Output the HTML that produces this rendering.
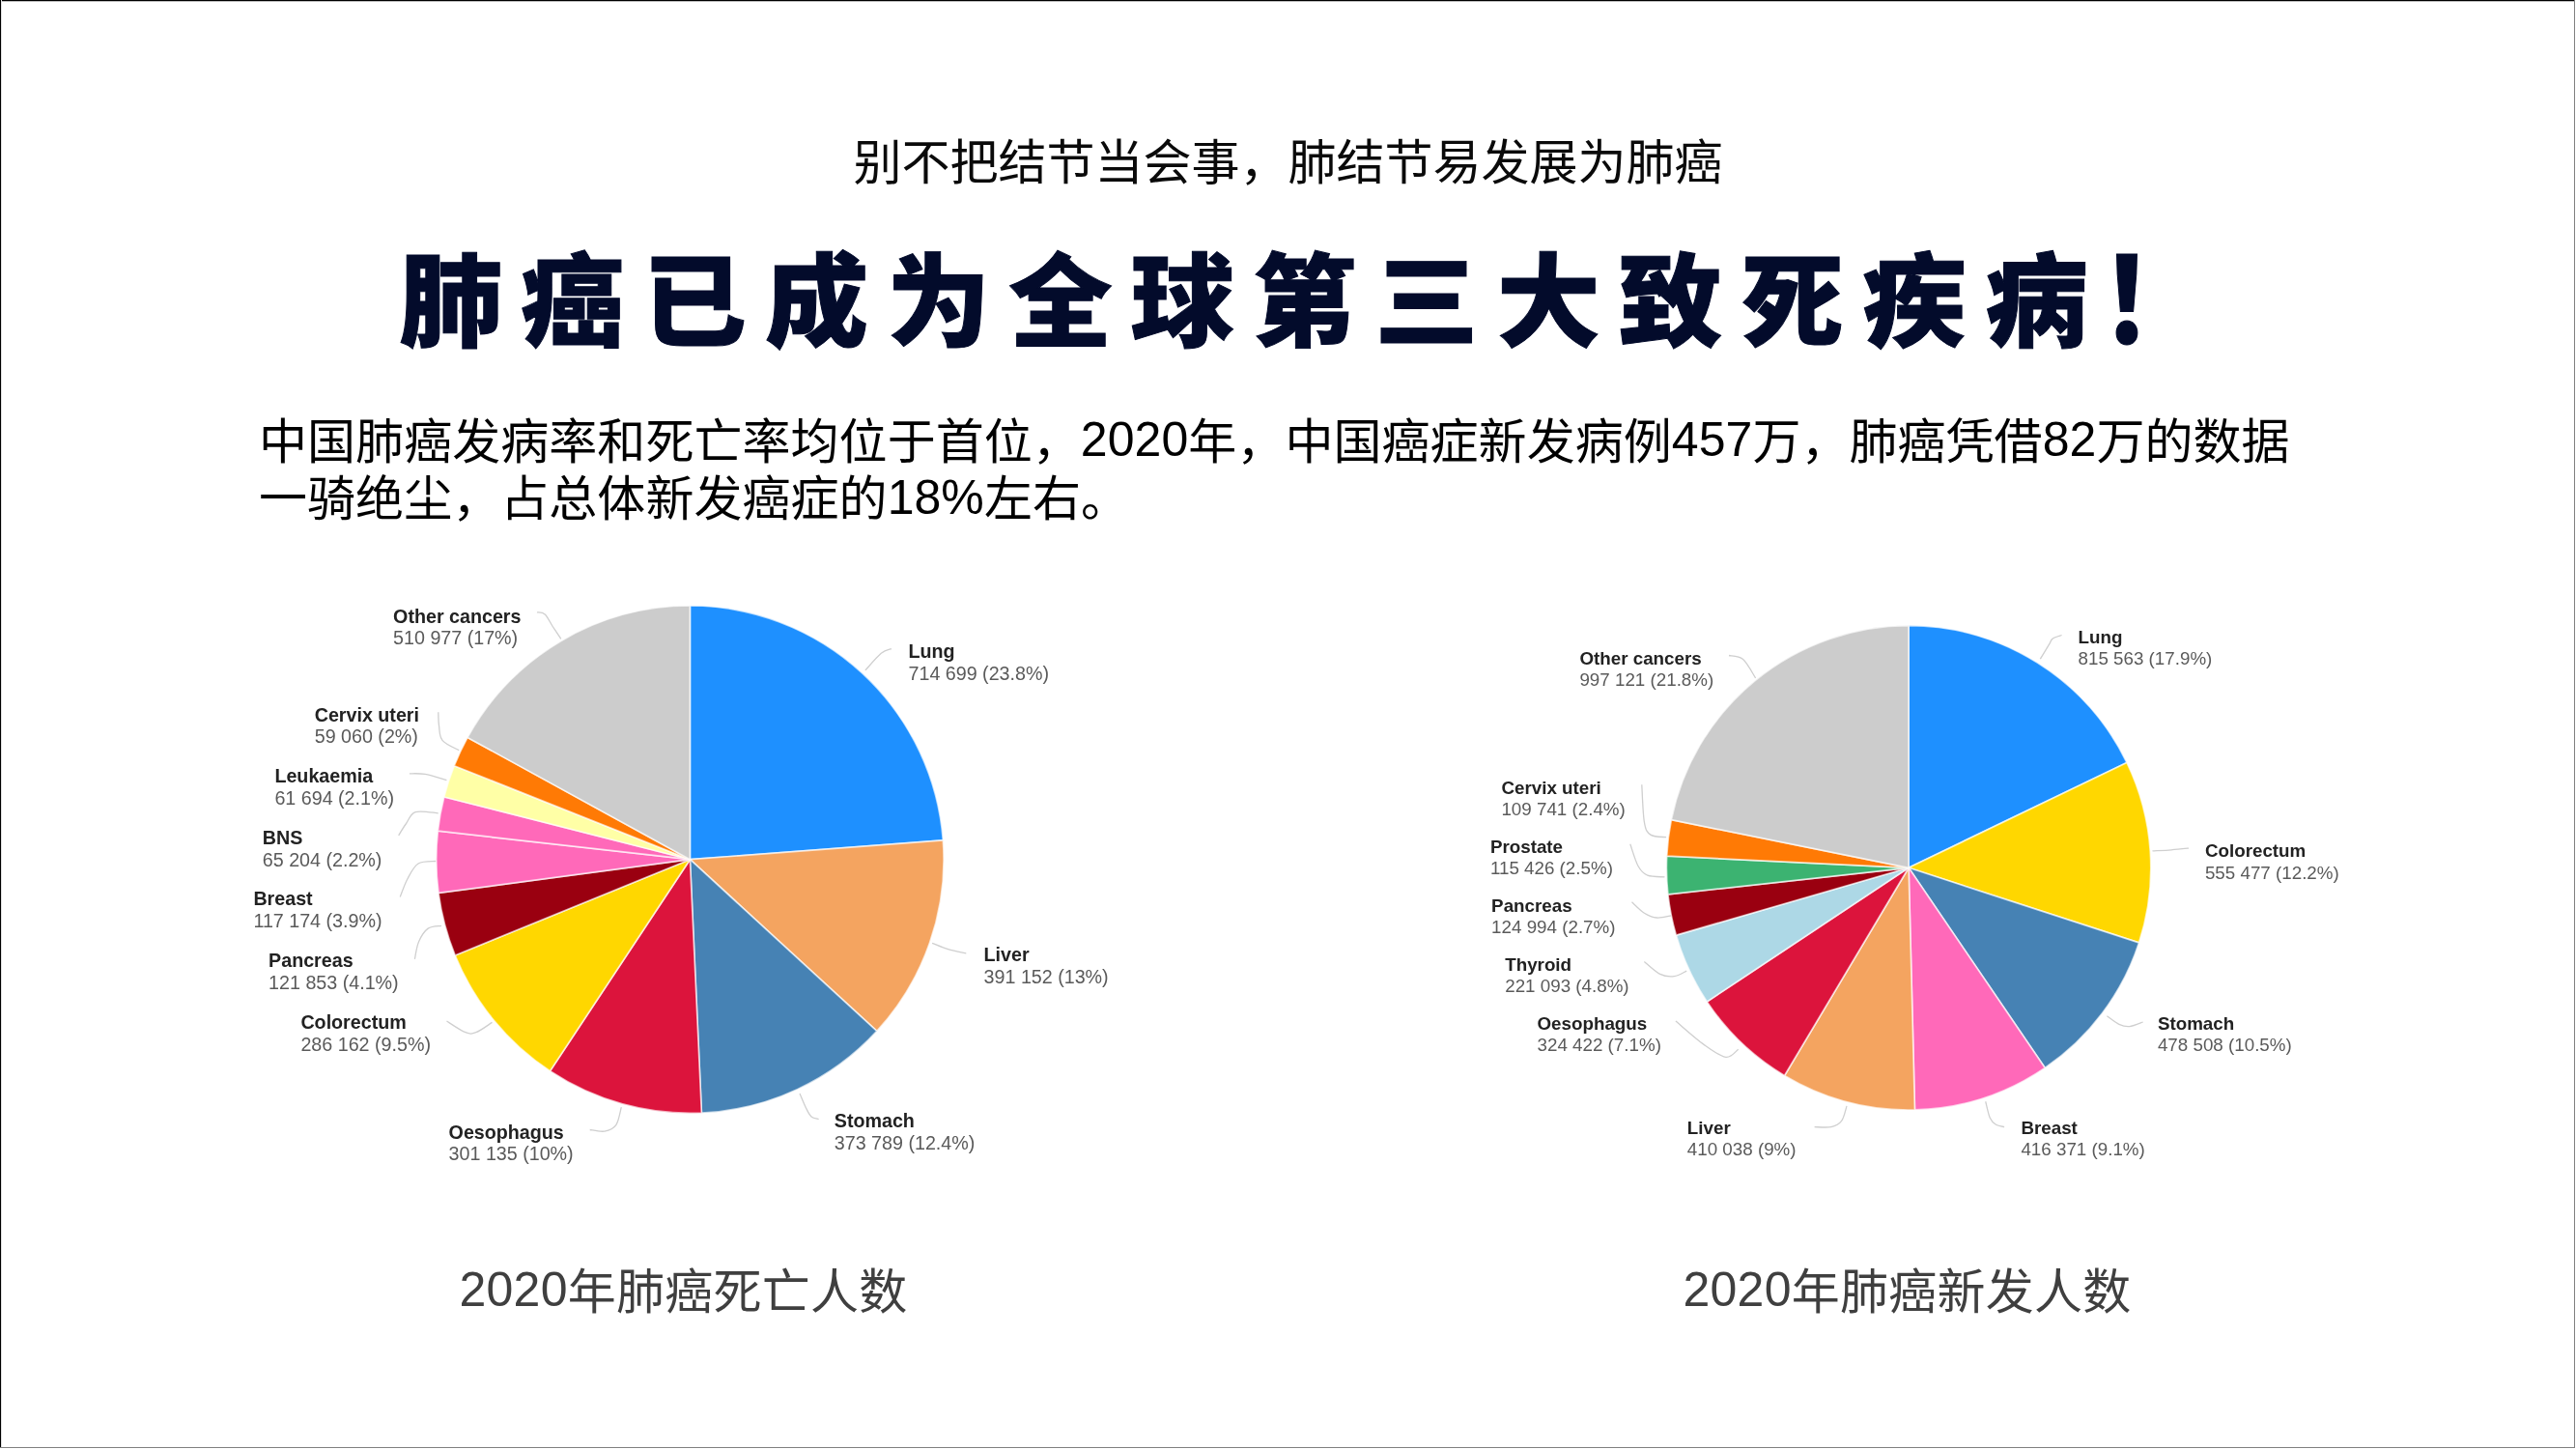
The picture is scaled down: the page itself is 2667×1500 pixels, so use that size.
<!DOCTYPE html>
<html lang="zh-CN"><head><meta charset="utf-8"><title>肺癌已成为全球第三大致死疾病</title>
<style>
html,body{margin:0;padding:0;background:#fff;}
body{width:2667px;height:1500px;position:relative;overflow:hidden;font-family:"Liberation Sans","Noto Sans CJK SC",sans-serif;}
.frame{position:absolute;left:0;top:0;width:2667px;height:1500px;box-sizing:border-box;pointer-events:none;}
.bt{position:absolute;left:0;top:0;width:2666px;height:1px;background:#000;border-bottom:1px solid #bdbdbd;}
.bl{position:absolute;left:0;top:0;width:1px;height:1499px;background:#000;border-right:1px solid #e2e2e2;}
.bb{position:absolute;left:0;top:1498px;width:2666px;height:1px;background:#808080;}
.br{position:absolute;left:2665px;top:0;width:1px;height:1499px;background:#808080;}
.sub{position:absolute;left:0;top:134px;width:2667px;text-align:center;font-size:50px;line-height:70px;color:#0a0a0a;white-space:nowrap;}
.title{position:absolute;left:413px;top:239px;font-family:"Liberation Sans","Noto Sans CJK SC",sans-serif;font-weight:900;font-size:107px;line-height:150px;letter-spacing:19.3px;transform:scaleY(0.98);transform-origin:0 71px;color:#030b2b;white-space:nowrap;-webkit-text-stroke:1px #030b2b;}
.ex{display:inline-block;position:relative;top:2px;margin-left:-6px;transform:scaleY(1.175);transform-origin:50% 94px;}
.para{position:absolute;left:268px;top:428.5px;width:2130px;font-size:50px;line-height:59.6px;letter-spacing:0.05px;color:#000;}
.n{position:relative;top:-2.5px;}
.cap{position:absolute;top:1302.5px;font-size:50px;line-height:70px;color:#3f3f3f;white-space:nowrap;letter-spacing:0.25px;}
svg{position:absolute;left:0;top:0;filter:blur(0.7px);}
.lt{font-family:"Liberation Sans",sans-serif;font-weight:700;fill:#222;}
.lv{font-family:"Liberation Sans",sans-serif;font-weight:400;fill:#5a5a5a;}
.ld path{fill:none;stroke:#cfcfcf;stroke-width:1.3;}
.pie path{stroke:#fff;stroke-opacity:.68;stroke-width:1.7;stroke-linejoin:round;}
</style></head><body>
<div class="sub">别不把结节当会事，肺结节易发展为肺癌</div>
<div class="title">肺癌已成为全球第三大致死疾病<span class="ex">！</span></div>
<div class="para">中国肺癌发病率和死亡率均位于首位，<span class="n">2020</span>年，中国癌症新发病例<span class="n">457</span>万，肺癌凭借<span class="n">82</span>万的数据<br>一骑绝尘，占总体新发癌症的<span class="n">18%</span>左右。</div>
<svg width="2667" height="1500" viewBox="0 0 2667 1500">
<g class="pie">
<path d="M714.4,889.7 L714.40,627.00 A262.7,262.7 0 0 1 976.35,869.92 Z" fill="#1E90FF"/>
<path d="M714.4,889.7 L976.35,869.92 A262.7,262.7 0 0 1 907.85,1067.43 Z" fill="#F4A460"/>
<path d="M714.4,889.7 L907.85,1067.43 A262.7,262.7 0 0 1 726.38,1152.13 Z" fill="#4682B4"/>
<path d="M714.4,889.7 L726.38,1152.13 A262.7,262.7 0 0 1 569.46,1108.80 Z" fill="#DC143C"/>
<path d="M714.4,889.7 L569.46,1108.80 A262.7,262.7 0 0 1 471.19,988.99 Z" fill="#FFD700"/>
<path d="M714.4,889.7 L471.19,988.99 A262.7,262.7 0 0 1 454.01,924.44 Z" fill="#9A0010"/>
<path d="M714.4,889.7 L454.01,924.44 A262.7,262.7 0 0 1 453.36,860.20 Z" fill="#FF69B9"/>
<path d="M714.4,889.7 L453.36,860.20 A262.7,262.7 0 0 1 459.80,824.97 Z" fill="#FF69B9"/>
<path d="M714.4,889.7 L459.80,824.97 A262.7,262.7 0 0 1 470.25,792.73 Z" fill="#FFFFA6"/>
<path d="M714.4,889.7 L470.25,792.73 A262.7,262.7 0 0 1 484.07,763.38 Z" fill="#FF7A05"/>
<path d="M714.4,889.7 L484.07,763.38 A262.7,262.7 0 0 1 714.40,627.00 Z" fill="#CCCCCC"/>
</g>
<g class="pie">
<path d="M1976.1,898.3 L1976.10,647.60 A250.7,250.7 0 0 1 2201.93,789.44 Z" fill="#1E90FF"/>
<path d="M1976.1,898.3 L2201.93,789.44 A250.7,250.7 0 0 1 2214.49,975.91 Z" fill="#FFD700"/>
<path d="M1976.1,898.3 L2214.49,975.91 A250.7,250.7 0 0 1 2117.24,1105.49 Z" fill="#4682B4"/>
<path d="M1976.1,898.3 L2117.24,1105.49 A250.7,250.7 0 0 1 1982.46,1148.92 Z" fill="#FF69B9"/>
<path d="M1976.1,898.3 L1982.46,1148.92 A250.7,250.7 0 0 1 1847.52,1113.52 Z" fill="#F4A460"/>
<path d="M1976.1,898.3 L1847.52,1113.52 A250.7,250.7 0 0 1 1767.24,1036.97 Z" fill="#DC143C"/>
<path d="M1976.1,898.3 L1767.24,1036.97 A250.7,250.7 0 0 1 1735.31,968.08 Z" fill="#ADD8E6"/>
<path d="M1976.1,898.3 L1735.31,968.08 A250.7,250.7 0 0 1 1726.92,925.86 Z" fill="#9A0010"/>
<path d="M1976.1,898.3 L1726.92,925.86 A250.7,250.7 0 0 1 1725.70,886.13 Z" fill="#3CB371"/>
<path d="M1976.1,898.3 L1725.70,886.13 A250.7,250.7 0 0 1 1730.37,848.62 Z" fill="#FF7A05"/>
<path d="M1976.1,898.3 L1730.37,848.62 A250.7,250.7 0 0 1 1976.10,647.60 Z" fill="#CCCCCC"/>
</g>
<g class="ld">
<path d="M556.0,633.8 C557.4,634.1 561.5,633.4 564.2,635.9 C567.0,638.4 569.7,644.8 572.5,649.0 C575.3,653.2 579.4,659.3 580.8,661.4"/>
<path d="M453.8,737.3 C453.9,739.6 453.8,746.3 454.5,751.1 C455.2,755.9 454.6,762.0 458.0,766.3 C461.4,770.6 472.3,775.0 475.2,776.7"/>
<path d="M423.9,800.8 C426.6,800.9 433.6,800.3 440.0,801.4 C446.4,802.5 458.7,806.6 462.4,807.6"/>
<path d="M412.7,864.8 C413.9,862.8 417.3,857.0 420.2,853.0 C423.1,849.0 424.5,842.5 430.1,840.6 C435.7,838.7 449.8,841.6 453.7,841.8"/>
<path d="M414.2,928.6 C415.5,925.5 418.7,915.8 421.8,910.0 C424.9,904.2 428.1,897.1 433.0,894.0 C437.9,890.9 448.2,891.9 451.2,891.5"/>
<path d="M429.4,992.8 C430.1,989.8 431.2,980.2 433.5,974.9 C435.8,969.6 439.3,963.9 443.2,961.1 C447.1,958.3 454.7,958.8 457.0,958.3"/>
<path d="M462.5,1057.0 C465.7,1059.0 476.8,1066.8 481.9,1068.7 C487.0,1070.7 488.3,1070.4 492.9,1068.7 C497.5,1067.0 506.7,1060.1 509.5,1058.4"/>
<path d="M610.7,1169.5 C613.2,1169.8 621.4,1171.9 625.9,1171.1 C630.4,1170.3 634.9,1168.8 637.8,1164.6 C640.7,1160.4 642.4,1149.2 643.3,1146.1"/>
<path d="M922.9,671.6 C921.1,672.4 916.8,672.6 912.3,676.3 C907.8,680.0 898.6,691.0 895.9,693.9"/>
<path d="M965.1,976.3 C967.9,977.3 975.7,980.9 981.6,982.6 C987.5,984.4 997.2,986.1 1000.3,986.8"/>
<path d="M828.0,1132.0 C829.1,1134.5 832.6,1143.2 834.6,1147.2 C836.6,1151.2 837.8,1154.0 840.0,1155.9 C842.2,1157.8 846.3,1158.1 847.6,1158.6"/>
<path d="M1790.0,678.5 C1792.4,679.1 1800.0,678.5 1804.6,682.4 C1809.2,686.3 1815.4,698.6 1817.6,701.9"/>
<path d="M1699.8,812.2 C1700.2,818.7 1700.9,842.5 1702.4,851.1 C1703.9,859.8 1705.1,861.5 1708.9,864.1 C1712.7,866.7 1722.4,866.3 1725.1,866.7"/>
<path d="M1687.8,873.8 C1689.2,877.6 1693.0,891.1 1696.0,896.5 C1699.0,901.9 1701.1,904.3 1705.7,906.2 C1710.3,908.1 1720.5,907.6 1723.5,907.9"/>
<path d="M1689.5,933.8 C1691.7,935.7 1698.1,942.5 1702.4,945.2 C1706.7,947.9 1710.8,949.6 1715.4,950.0 C1720.0,950.4 1727.6,948.2 1730.0,947.8"/>
<path d="M1702.4,995.4 C1705.1,997.6 1713.6,1005.8 1718.7,1008.4 C1723.8,1011.0 1728.7,1011.2 1733.3,1010.7 C1737.9,1010.2 1744.0,1006.1 1746.2,1005.2"/>
<path d="M1734.9,1057.1 C1739.8,1061.1 1755.4,1075.2 1764.1,1081.4 C1772.8,1087.6 1780.9,1093.6 1786.8,1094.4 C1792.7,1095.2 1797.5,1087.7 1799.7,1086.3"/>
<path d="M1878.6,1166.6 C1881.4,1166.6 1891.0,1167.6 1895.7,1166.6 C1900.4,1165.6 1903.9,1164.0 1906.6,1160.4 C1909.3,1156.8 1911.1,1147.5 1912.0,1144.9"/>
<path d="M2055.7,1140.2 C2056.5,1143.0 2058.5,1153.3 2060.3,1157.3 C2062.1,1161.3 2064.0,1162.8 2066.5,1164.3 C2069.0,1165.8 2073.7,1166.2 2075.1,1166.6"/>
<path d="M2181.4,1051.7 C2183.5,1053.1 2190.0,1058.5 2193.9,1060.3 C2197.8,1062.1 2200.6,1063.0 2204.7,1062.6 C2208.8,1062.2 2216.4,1058.8 2218.7,1058.0"/>
<path d="M2134.6,657.5 C2133.0,658.1 2127.3,659.5 2125.2,661.1 C2123.0,662.7 2123.8,663.4 2121.7,666.9 C2119.5,670.4 2113.9,679.7 2112.3,682.2"/>
<path d="M2228.5,880.9 C2231.8,880.7 2241.8,880.3 2248.0,879.8 C2254.2,879.3 2263.0,878.4 2266.0,878.1"/>
</g>
<g transform="translate(407.1,0) scale(1.005,1)"><text class="lt" font-size="19.6" x="0" y="644.6">Other cancers</text><text class="lv" font-size="19.6" x="0" y="666.9">510 977 (17%)</text></g>
<g transform="translate(325.7,0) scale(1.005,1)"><text class="lt" font-size="19.6" x="0" y="746.6">Cervix uteri</text><text class="lv" font-size="19.6" x="0" y="768.9">59 060 (2%)</text></g>
<g transform="translate(284.4,0) scale(1.005,1)"><text class="lt" font-size="19.6" x="0" y="810.0">Leukaemia</text><text class="lv" font-size="19.6" x="0" y="832.7">61 694 (2.1%)</text></g>
<g transform="translate(271.8,0) scale(1.005,1)"><text class="lt" font-size="19.6" x="0" y="874.0">BNS</text><text class="lv" font-size="19.6" x="0" y="896.8">65 204 (2.2%)</text></g>
<g transform="translate(262.4,0) scale(1.005,1)"><text class="lt" font-size="19.6" x="0" y="937.5">Breast</text><text class="lv" font-size="19.6" x="0" y="960.5">117 174 (3.9%)</text></g>
<g transform="translate(278.1,0) scale(1.005,1)"><text class="lt" font-size="19.6" x="0" y="1001.4">Pancreas</text><text class="lv" font-size="19.6" x="0" y="1024.4">121 853 (4.1%)</text></g>
<g transform="translate(311.4,0) scale(1.005,1)"><text class="lt" font-size="19.6" x="0" y="1065.4">Colorectum</text><text class="lv" font-size="19.6" x="0" y="1088.4">286 162 (9.5%)</text></g>
<g transform="translate(464.6,0) scale(1.005,1)"><text class="lt" font-size="19.6" x="0" y="1178.7">Oesophagus</text><text class="lv" font-size="19.6" x="0" y="1201.5">301 135 (10%)</text></g>
<g transform="translate(940.5,0) scale(1.005,1)"><text class="lt" font-size="19.6" x="0" y="681.0">Lung</text><text class="lv" font-size="19.6" x="0" y="704.0">714 699 (23.8%)</text></g>
<g transform="translate(1018.6,0) scale(1.005,1)"><text class="lt" font-size="19.6" x="0" y="995.0">Liver</text><text class="lv" font-size="19.6" x="0" y="1017.8">391 152 (13%)</text></g>
<g transform="translate(863.8,0) scale(1.005,1)"><text class="lt" font-size="19.6" x="0" y="1167.5">Stomach</text><text class="lv" font-size="19.6" x="0" y="1190.2">373 789 (12.4%)</text></g>
<g transform="translate(1635.4,0) scale(1.005,1)"><text class="lt" font-size="18.7" x="0" y="688.0">Other cancers</text><text class="lv" font-size="18.7" x="0" y="710.3">997 121 (21.8%)</text></g>
<g transform="translate(1554.4,0) scale(1.005,1)"><text class="lt" font-size="18.7" x="0" y="822.3">Cervix uteri</text><text class="lv" font-size="18.7" x="0" y="844.0">109 741 (2.4%)</text></g>
<g transform="translate(1542.9,0) scale(1.005,1)"><text class="lt" font-size="18.7" x="0" y="883.3">Prostate</text><text class="lv" font-size="18.7" x="0" y="905.0">115 426 (2.5%)</text></g>
<g transform="translate(1544.1,0) scale(1.005,1)"><text class="lt" font-size="18.7" x="0" y="944.1">Pancreas</text><text class="lv" font-size="18.7" x="0" y="966.2">124 994 (2.7%)</text></g>
<g transform="translate(1558.2,0) scale(1.005,1)"><text class="lt" font-size="18.7" x="0" y="1004.9">Thyroid</text><text class="lv" font-size="18.7" x="0" y="1026.7">221 093 (4.8%)</text></g>
<g transform="translate(1591.5,0) scale(1.005,1)"><text class="lt" font-size="18.7" x="0" y="1066.1">Oesophagus</text><text class="lv" font-size="18.7" x="0" y="1088.2">324 422 (7.1%)</text></g>
<g transform="translate(1746.8,0) scale(1.005,1)"><text class="lt" font-size="18.7" x="0" y="1174.5">Liver</text><text class="lv" font-size="18.7" x="0" y="1196.1">410 038 (9%)</text></g>
<g transform="translate(2092.4,0) scale(1.005,1)"><text class="lt" font-size="18.7" x="0" y="1174.5">Breast</text><text class="lv" font-size="18.7" x="0" y="1196.1">416 371 (9.1%)</text></g>
<g transform="translate(2233.9,0) scale(1.005,1)"><text class="lt" font-size="18.7" x="0" y="1066.1">Stomach</text><text class="lv" font-size="18.7" x="0" y="1088.2">478 508 (10.5%)</text></g>
<g transform="translate(2151.5,0) scale(1.005,1)"><text class="lt" font-size="18.7" x="0" y="665.8">Lung</text><text class="lv" font-size="18.7" x="0" y="688.0">815 563 (17.9%)</text></g>
<g transform="translate(2282.9,0) scale(1.005,1)"><text class="lt" font-size="18.7" x="0" y="887.5">Colorectum</text><text class="lv" font-size="18.7" x="0" y="909.8">555 477 (12.2%)</text></g>
</svg>
<div class="cap" style="left:475.5px"><span class="n">2020</span>年肺癌死亡人数</div>
<div class="cap" style="left:1742.5px"><span class="n">2020</span>年肺癌新发人数</div>
<div class="bt"></div><div class="bl"></div><div class="bb"></div><div class="br"></div>
</body></html>
